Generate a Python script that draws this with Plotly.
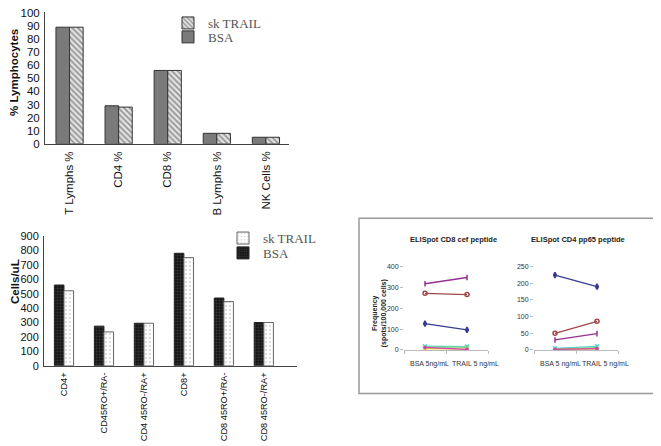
import plotly.graph_objects as go

# Figure size in pixels
W, H = 661, 446
# the page body has an 8px margin, so the figure starts 8px in from the window corner
OFF = 8

# Top chart: % lymphocytes
lymph_cats = ["T Lymphs %", "CD4 %", "CD8 %", "B Lymphs %", "NK Cells %"]
lymph_bsa = [89, 29, 56, 8, 5]
lymph_trail = [89, 28, 56, 8, 5]

# Bottom chart: cells per uL
cell_cats = ["CD4+", "CD45RO+/RA-", "CD4 45RO-/RA+", "CD8+", "CD8 45RO+/RA-", "CD8 45RO-/RA+"]
cell_bsa = [560, 275, 295, 780, 470, 300]
cell_trail = [520, 235, 295, 750, 445, 300]

# Inset: ELISpot frequencies
eli_x = ["BSA 5ng/mL", "TRAIL 5 ng/mL"]
eli_x2 = ["BSA 5 ng/mL", "TRAIL 5 ng/mL"]
cd8_navy = [126, 96]
cd8_brown = [272, 266]
cd8_purple = [318, 348]
cd8_cyan = [18, 16]
cd8_green = [14, 14]
cd8_yellow = [6, 4]
cd8_magenta = [12, 3]
cd4_navy = [225, 190]
cd4_brown = [50, 86]
cd4_purple = [30, 49]
cd4_cyan = [5, 11]
cd4_green = [3, 7]
cd4_yellow = [1, 3]
cd4_magenta = [2, 4]


# window pixel -> paper fraction (clamped to the paper)
def fx(v):
    return min(max((v - OFF) / W, 0), 1)


def fy(v):
    return min(max(1 - (v - OFF) / H, 0), 1)


fig = go.Figure()

# --- top bar chart ---
bw = 0.277
fig.add_trace(go.Bar(
    x=lymph_cats, y=lymph_bsa, name="BSA", width=bw, offset=-bw,
    marker=dict(color="#7a7a7a", line=dict(color="#333333", width=1)),
    xaxis="x", yaxis="y", legend="legend2"))
fig.add_trace(go.Bar(
    x=lymph_cats, y=lymph_trail, name="sk TRAIL", width=bw, offset=0,
    marker=dict(color="#e2e2e2", line=dict(color="#333333", width=1),
                pattern=dict(shape="\\", fgcolor="#444444", bgcolor="#e2e2e2", size=4, solidity=0.4)),
    xaxis="x", yaxis="y", legend="legend"))

# --- bottom bar chart ---
bw2 = 0.24
fig.add_trace(go.Bar(
    x=cell_cats, y=cell_bsa, name="BSA", width=bw2, offset=-bw2,
    marker=dict(color="#1a1a1a", line=dict(color="#222222", width=1),
                pattern=dict(shape=".", fgcolor="#5a5a5a", bgcolor="#141414", size=3, solidity=0.4)),
    xaxis="x2", yaxis="y2", legend="legend4"))
fig.add_trace(go.Bar(
    x=cell_cats, y=cell_trail, name="sk TRAIL", width=bw2, offset=0,
    marker=dict(color="#ffffff", line=dict(color="#666666", width=1),
                pattern=dict(shape=".", fgcolor="#bdbdbd", bgcolor="#ffffff", size=4, solidity=0.3)),
    xaxis="x2", yaxis="y2", legend="legend3"))

# --- inset line charts ---
series = [
    (cd8_navy, cd4_navy, "#3a3a96", "diamond-tall", 4),
    (cd8_brown, cd4_brown, "#a04848", "circle-open", 4),
    (cd8_purple, cd4_purple, "#94308f", "line-ns-open", 4),
    (cd8_cyan, cd4_cyan, "#55d0d8", "x-thin-open", 4),
    (cd8_green, cd4_green, "#7ad67a", "circle", 2),
    (cd8_yellow, cd4_yellow, "#e8c23a", "circle", 2),
    (cd8_magenta, cd4_magenta, "#cc44aa", "circle", 2),
]
for v8, v4, col, sym, sz in series:
    fig.add_trace(go.Scatter(
        x=eli_x, y=v8, mode="lines+markers", showlegend=False,
        line=dict(color=col, width=1.3),
        marker=dict(symbol=sym, size=sz, color=col, line=dict(color=col, width=1.5)),
        xaxis="x3", yaxis="y3"))
    fig.add_trace(go.Scatter(
        x=eli_x2, y=v4, mode="lines+markers", showlegend=False,
        line=dict(color=col, width=1.3),
        marker=dict(symbol=sym, size=sz, color=col, line=dict(color=col, width=1.5)),
        xaxis="x4", yaxis="y4"))

main_font = dict(family="Liberation Sans, Arial", color="#111111")
inset_font = dict(family="Liberation Sans, Arial", color="#333333", size=7)
legend_font = dict(family="Liberation Serif, Times New Roman", size=13, color="#555555")

fig.update_layout(
    width=W, height=H, autosize=False,
    margin=dict(l=0, r=0, t=0, b=0),
    plot_bgcolor="white", paper_bgcolor="white",
    barmode="overlay",
    # top chart axes
    xaxis=dict(domain=[fx(45), fx(289)], range=[-0.5, 4.47], anchor="y", automargin=False,
               showline=True, linecolor="#444444", linewidth=1, showgrid=False,
               tickangle=-90, ticks="", ticklabelstandoff=2,
               tickfont=dict(size=11.5, **main_font)),
    yaxis=dict(domain=[fy(141), fy(8)], range=[0, 100.6], anchor="x", automargin=False,
               showline=True, linecolor="#444444", linewidth=1, showgrid=False,
               tickvals=list(range(0, 101, 10)), ticks="", ticklabelstandoff=2, zeroline=False,
               ticklabeloverflow="allow", tickfont=dict(size=11.5, **main_font)),
    # bottom chart axes
    xaxis2=dict(domain=[fx(44), fx(297)], range=[-0.5, 5.83], anchor="y2", automargin=False,
                showline=True, linecolor="#444444", linewidth=1, showgrid=False,
                tickangle=-90, ticks="", ticklabelstandoff=2,
                tickfont=dict(size=9.2, **main_font)),
    yaxis2=dict(domain=[fy(365), fy(234)], range=[0, 900], anchor="x2", automargin=False,
                showline=True, linecolor="#444444", linewidth=1, showgrid=False,
                dtick=100, ticks="", ticklabelstandoff=2, zeroline=False,
                tickfont=dict(size=11, **main_font)),
    # inset axes (category text is written as annotations below)
    xaxis3=dict(domain=[fx(404), fx(488)], range=[-0.5, 1.5], anchor="y3", automargin=False,
                showline=True, linecolor="#bbbbbb", linewidth=1, showgrid=False,
                showticklabels=False, ticks="outside", tickson="boundaries", ticklen=3,
                tickcolor="#bbbbbb"),
    yaxis3=dict(domain=[fy(349), fy(265)], range=[0, 400], anchor="x3", automargin=False,
                showline=False, showgrid=False, zeroline=False, dtick=100,
                ticks="outside", ticklen=3, tickcolor="#bbbbbb", tickfont=inset_font),
    xaxis4=dict(domain=[fx(534), fx(618)], range=[-0.5, 1.5], anchor="y4", automargin=False,
                showline=True, linecolor="#bbbbbb", linewidth=1, showgrid=False,
                showticklabels=False, ticks="outside", tickson="boundaries", ticklen=3,
                tickcolor="#bbbbbb"),
    yaxis4=dict(domain=[fy(349), fy(265)], range=[0, 250], anchor="x4", automargin=False,
                showline=False, showgrid=False, zeroline=False, dtick=50,
                ticks="outside", ticklen=3, tickcolor="#bbbbbb", tickfont=inset_font),
    # one legend per entry so the rows sit where the original has them
    legend=dict(x=fx(168), y=1 - (3.5 - OFF) / H, xanchor="left", yanchor="top",
                bgcolor="rgba(0,0,0,0)", font=legend_font),
    legend2=dict(x=fx(168), y=fy(18), xanchor="left", yanchor="top", bgcolor="rgba(0,0,0,0)",
                 font=legend_font),
    legend3=dict(x=fx(223), y=fy(221), xanchor="left", yanchor="top", bgcolor="rgba(0,0,0,0)",
                 font=legend_font),
    legend4=dict(x=fx(223), y=fy(236), xanchor="left", yanchor="top", bgcolor="rgba(0,0,0,0)",
                 font=legend_font),
)

# Axis titles and inset titles as annotations
ann_base = dict(xref="paper", yref="paper", showarrow=False, xanchor="center", yanchor="middle")
fig.add_annotation(x=fx(14.5), y=fy(69), text="<b>% Lymphocytes</b>", textangle=-90,
                   font=dict(size=11.5, **main_font), **ann_base)
fig.add_annotation(x=fx(14.5), y=fy(280), text="<b>Cells/uL</b>", textangle=-90,
                   font=dict(size=11.5, **main_font), **ann_base)
fig.add_annotation(x=fx(453), y=fy(238), text="<b>ELISpot CD8 cef peptide</b>",
                   font=dict(size=7.5, family="Liberation Sans, Arial", color="#222222"), **ann_base)
fig.add_annotation(x=fx(578), y=fy(238), text="<b>ELISpot CD4 pp65 peptide</b>",
                   font=dict(size=7.5, family="Liberation Sans, Arial", color="#222222"), **ann_base)
fig.add_annotation(x=fx(379), y=fy(312), text="<b>Frequency<br>(spots/100,000 cells)</b>",
                   textangle=-90, font=dict(size=7, family="Liberation Sans, Arial", color="#222222"),
                   **ann_base)

# Inset category labels, placed like the original (slightly right of the points)
for lab, xp in zip(eli_x, [429, 475]):
    fig.add_annotation(x=fx(xp), y=fy(363), text=lab, font=inset_font, **ann_base)
for lab, xp in zip(eli_x2, [560, 605]):
    fig.add_annotation(x=fx(xp), y=fy(363), text=lab, font=inset_font, **ann_base)

# Frame around the inset
fig.add_shape(type="rect", xref="paper", yref="paper",
              x0=fx(359), x1=fx(660), y0=fy(393), y1=fy(216),
              line=dict(color="#999999", width=1.5))

fig.write_html("out.html")
